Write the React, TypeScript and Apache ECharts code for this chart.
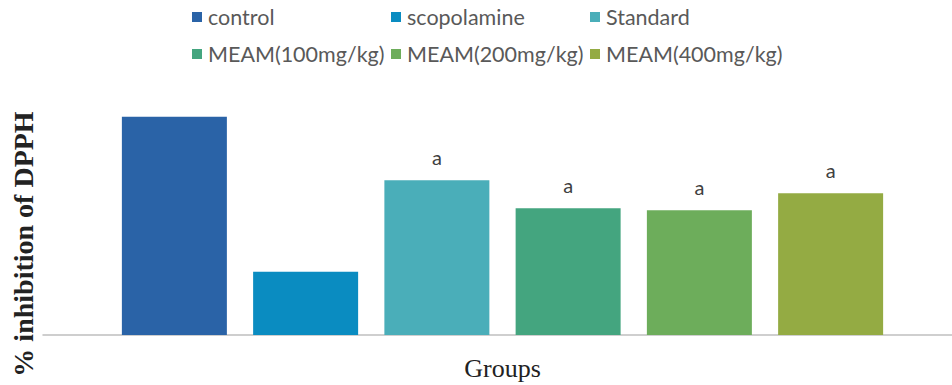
import React, { useEffect, useRef } from "react";
import * as echarts from "echarts";

const groups = ["Groups"];
const seriesNames = [
  "control",
  "scopolamine",
  "Standard",
  "MEAM(100mg/kg)",
  "MEAM(200mg/kg)",
  "MEAM(400mg/kg)",
];
const seriesValues = [92.9, 26.9, 65.8, 53.9, 53.1, 60.3];
const seriesLetters = ["", "", "a", "a", "a", "a"];
const seriesColors = ["#2A63A7", "#0A8CC1", "#4AAEB9", "#44A57F", "#6DAD5B", "#94AB43"];

const legendLefts = [192, 391, 590];
const legendTops = [6, 43];

export default function App() {
  const ref = useRef<HTMLDivElement>(null);

  useEffect(() => {
    if (!ref.current) return;
    const chart = echarts.init(ref.current, undefined, { renderer: "svg" });

    const legends = seriesNames.map((name, i) => ({
      data: [name],
      left: legendLefts[i % 3],
      top: legendTops[Math.floor(i / 3)],
      padding: 0,
      itemWidth: 10,
      itemHeight: 10,
      icon: "rect",
      itemGap: 0,
      selectedMode: false,
      textStyle: {
        fontFamily: "Lato",
        fontSize: 21.5,
        color: "#595959",
        padding: [0, 0, 0, 1],
      },
    }));

    const series = seriesNames.map((name, i) => ({
      type: "bar",
      name,
      data: [seriesValues[i]],
      barWidth: 105,
      barGap: "25%",
      itemStyle: { color: seriesColors[i] },
      label: {
        show: seriesLetters[i] !== "",
        position: "top",
        distance: 13,
        formatter: seriesLetters[i],
        fontFamily: "Lato",
        fontSize: 20,
        color: "#404040",
      },
    }));

    chart.setOption({
      animation: false,
      backgroundColor: "#ffffff",
      legend: legends,
      grid: {
        left: 43,
        right: -10,
        top: 100,
        bottom: 50,
        containLabel: false,
        outerBoundsMode: "none",
      },
      xAxis: {
        type: "category",
        data: groups,
        axisLabel: { show: false },
        axisTick: { show: false },
        axisLine: { lineStyle: { color: "#BFBFBF", width: 1.5 } },
        name: "Groups",
        nameLocation: "middle",
        nameGap: 20,
        nameTextStyle: {
          fontFamily: "Liberation Serif",
          fontSize: 26,
          color: "#222222",
        },
      },
      yAxis: {
        type: "value",
        min: 0,
        max: 100,
        show: true,
        axisLine: { show: false },
        axisTick: { show: false },
        axisLabel: { show: false },
        splitLine: { show: false },
      },
      graphic: [
        {
          type: "text",
          x: 23,
          y: 244,
          rotation: Math.PI / 2,
          style: {
            text: "% inhibition of DPPH",
            fontFamily: "Liberation Serif",
            fontWeight: "bold",
            fontSize: 28,
            fill: "#222222",
            textAlign: "center",
            textVerticalAlign: "middle",
          },
        },
      ],
      series,
    });

    return () => chart.dispose();
  }, []);

  return (
    <div
      ref={ref}
      style={{ position: "fixed", left: 0, top: 0, width: 952, height: 385, background: "#fff" }}
    />
  );
}
